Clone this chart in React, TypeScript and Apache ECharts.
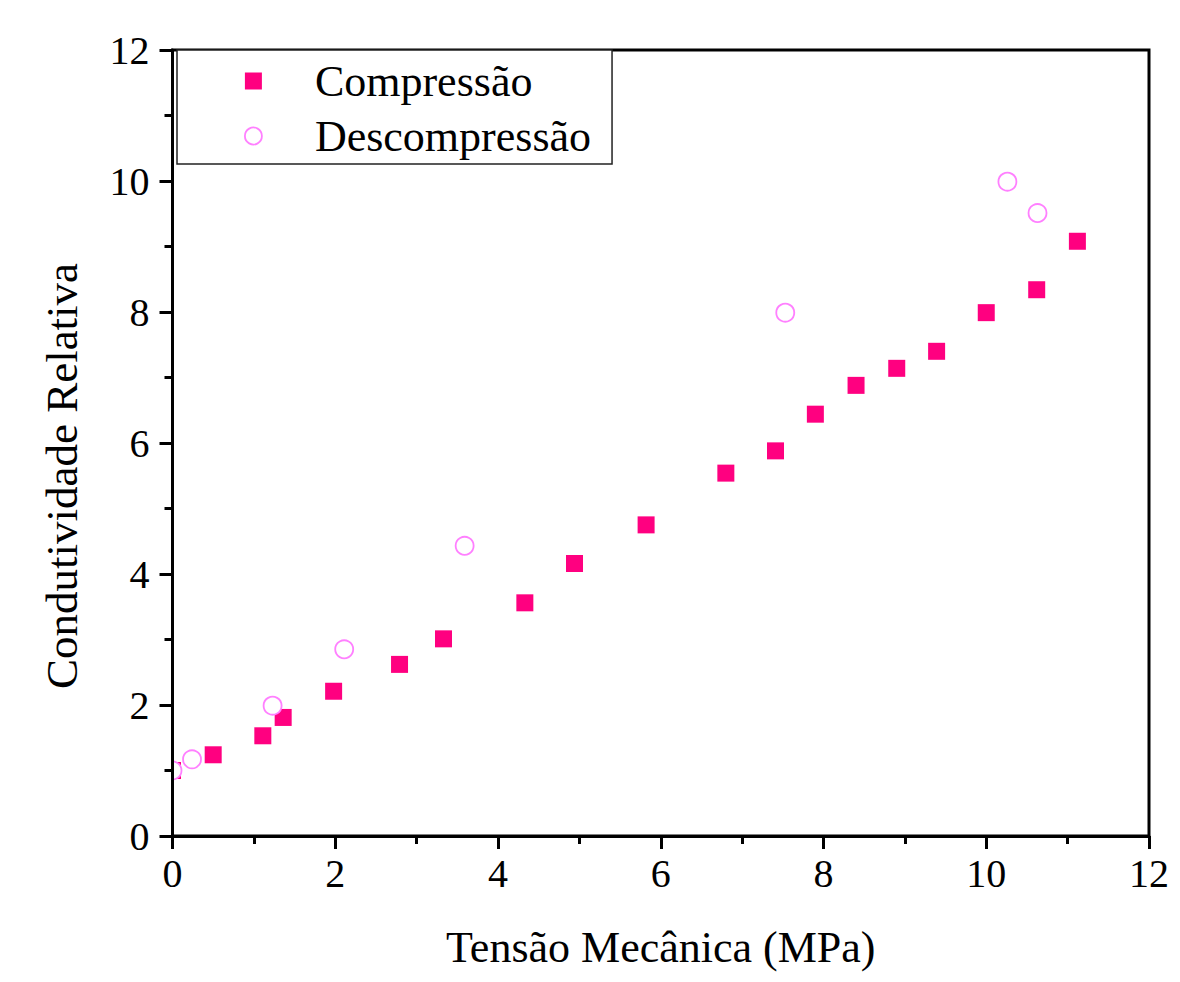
import React, { useEffect, useRef } from "react";
import * as echarts from "echarts";

const compressaoX = [0, 0.5, 1.11, 1.36, 1.98, 2.79, 3.33, 4.33, 4.94, 5.82, 6.8, 7.41, 7.9, 8.4, 8.9, 9.39, 10.0, 10.62, 11.12];
const compressaoY = [1.0, 1.24, 1.53, 1.81, 2.21, 2.62, 3.01, 3.56, 4.16, 4.75, 5.54, 5.88, 6.44, 6.88, 7.14, 7.4, 7.99, 8.34, 9.08];
const descompressaoX = [0, 0.24, 1.23, 2.11, 3.59, 7.53, 10.26, 10.63];
const descompressaoY = [1.0, 1.17, 1.99, 2.85, 4.43, 7.99, 9.99, 9.51];

const xTicks = [0, 2, 4, 6, 8, 10, 12];
const yTicks = [0, 2, 4, 6, 8, 10, 12];

const FONT = "Liberation Serif";

export default function App() {
  const ref = useRef<HTMLDivElement>(null);
  useEffect(() => {
    if (!ref.current) return;
    const chart = echarts.init(ref.current, null, { renderer: "svg" });
    const axisCommon = {
      min: 0,
      max: 12,
      interval: 2,
      z: 20,
      axisLine: { show: true, lineStyle: { color: "#000", width: 3 } },
      axisTick: { show: true, inside: false, length: 13, lineStyle: { color: "#000", width: 3 } },
      minorTick: { show: true, splitNumber: 2, length: 8, lineStyle: { color: "#000", width: 3 } },
      splitLine: { show: false },
      minorSplitLine: { show: false },
    };
    chart.setOption({
      animation: false,
      backgroundColor: "#fff",
      grid: {
        left: 164.5,
        right: 22,
        top: 42,
        bottom: 136,
        show: true,
        borderColor: "#000",
        borderWidth: 3,
        backgroundColor: "transparent",
        z: 20,
      },
      legend: {
        left: 169,
        top: 42,
        z: 25,
        orient: "vertical",
        padding: [9, 21, 6, 67],
        itemGap: 11,
        itemWidth: 17,
        itemHeight: 17,
        borderColor: "#222",
        borderWidth: 1.5,
        backgroundColor: "#fff",
        textStyle: { fontFamily: FONT, fontSize: 44, color: "#000", lineHeight: 44, padding: [0, 0, 0, 48] },
        data: [
          { name: "Compressão", icon: "rect", itemStyle: { color: "#FF0080" } },
          {
            name: "Descompressão",
            icon: "circle",
            itemStyle: { color: "#fff", borderColor: "#FF80FF", borderWidth: 1.8 },
          },
        ],
      },
      xAxis: {
        ...axisCommon,
        type: "value",
        name: "Tensão Mecânica (MPa)",
        nameLocation: "middle",
        nameGap: 89,
        nameTextStyle: { fontFamily: FONT, fontSize: 44, color: "#000" },
        axisLabel: {
          margin: 17,
          fontFamily: FONT,
          fontSize: 40,
          color: "#000",
          formatter: (v: number) => (xTicks.includes(v) ? String(v) : ""),
        },
      },
      yAxis: {
        ...axisCommon,
        type: "value",
        axisLabel: {
          margin: 23,
          fontFamily: FONT,
          fontSize: 40,
          color: "#000",
          formatter: (v: number) => (yTicks.includes(v) ? String(v) : ""),
        },
      },
      graphic: [
        {
          type: "rect",
          z: 10,
          shape: { x: 0, y: 0, width: 164, height: 966 },
          style: { fill: "#fff" },
        },
        {
          type: "text",
          z: 30,
          x: 54,
          y: 468,
          rotation: Math.PI / 2,
          style: {
            text: "Condutividade Relativa",
            fontFamily: FONT,
            fontSize: 45,
            fill: "#000",
            align: "center",
            verticalAlign: "middle",
          },
        },
      ],
      series: [
        {
          name: "Compressão",
          type: "scatter",
          symbol: "rect",
          symbolSize: 17,
          clip: true,
          z: 2,
          itemStyle: { color: "#FF0080", opacity: 1 },
          data: compressaoX.map((x, i) => [x, compressaoY[i]]),
        },
        {
          name: "Descompressão",
          type: "scatter",
          symbol: "circle",
          symbolSize: 18,
          clip: true,
          z: 3,
          itemStyle: { color: "#fff", borderColor: "#FF80FF", borderWidth: 1.8, opacity: 1 },
          data: descompressaoX.map((x, i) => [x, descompressaoY[i]]),
        },
      ],
    });
    return () => chart.dispose();
  }, []);
  return <div ref={ref} style={{ width: 1164, height: 966 }} />;
}
